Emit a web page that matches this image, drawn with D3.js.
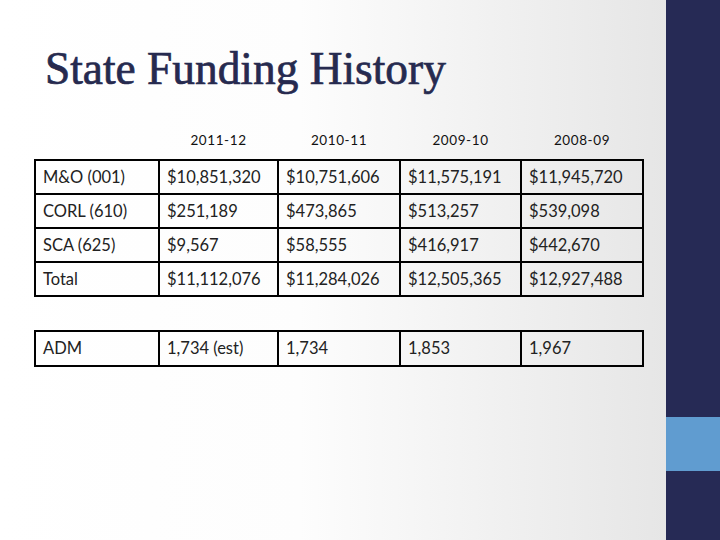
<!DOCTYPE html>
<html>
<head>
<meta charset="utf-8">
<script src="https://cdn.jsdelivr.net/npm/d3@7"></script>
<style>
  html, body { margin: 0; padding: 0; background: #fff; }
  svg { display: block; }
</style>
</head>
<body>
<div id="chart"></div>
<script>
// ---- data ----
const title = "State Funding History";
const years = ["2011-12", "2010-11", "2009-10", "2008-09"];
const rowLabels = ["M&O (001)", "CORL (610)", "SCA (625)", "Total"];
const moValues = [10851320, 10751606, 11575191, 11945720];
const corlValues = [251189, 473865, 513257, 539098];
const scaValues = [9567, 58555, 416917, 442670];
const totalValues = [11112076, 11284026, 12505365, 12927488];
const admLabel = "ADM";
const admValues = [1734, 1734, 1853, 1967];
const admNotes = [" (est)", "", "", ""];

const W = 720, H = 540;
const svg = d3.select("#chart").append("svg").attr("width", W).attr("height", H);

// background
const defs = svg.append("defs");
const g1 = defs.append("linearGradient").attr("id", "bg").attr("x1", 0).attr("x2", 1).attr("y1", 0).attr("y2", 0);
g1.append("stop").attr("offset", "0%").attr("stop-color", "#ffffff");
g1.append("stop").attr("offset", "45%").attr("stop-color", "#fdfdfd");
g1.append("stop").attr("offset", "100%").attr("stop-color", "#e6e6e6");
svg.append("rect").attr("x", 0).attr("y", 0).attr("width", 666).attr("height", H).attr("fill", "url(#bg)");

// sidebar
svg.append("rect").attr("x", 666).attr("y", 0).attr("width", 54).attr("height", H).attr("fill", "#262a55");
svg.append("rect").attr("x", 666).attr("y", 417).attr("width", 54).attr("height", 54).attr("fill", "#609cd0");

// title
const t = svg.append("text").attr("x", 45).attr("y", 84)
  .attr("font-family", "'Liberation Serif', 'DejaVu Serif', serif")
  .attr("font-size", 44).attr("fill", "#262a4f")
  .attr("stroke", "#262a4f").attr("stroke-width", 0.7)
  .text(title);
const tw = t.node().getComputedTextLength();
t.attr("font-size", 44 * 401 / tw);

// scales
const cols = ["__label"].concat(years);
const colEdges = [35, 159, 278, 400, 521, 643];
const x = d3.scaleOrdinal().domain(cols).range(colEdges.slice(0, 5));
const colWidth = c => colEdges[cols.indexOf(c) + 1] - x(c);
const rows = rowLabels;
const y = d3.scaleBand().domain(rows).range([160, 296]);
const yAdm = d3.scaleBand().domain([admLabel]).range([331, 366]);

const fmt = d3.format("$,");
const seriesByRow = [moValues, corlValues, scaValues, totalValues];

const font = "Lato, 'Open Sans', sans-serif";
const fs = 16.5;

// header
svg.append("g").selectAll("text").data(years).join("text")
  .attr("x", d => x(d) + colWidth(d) / 2)
  .attr("y", 145)
  .attr("text-anchor", "middle")
  .attr("font-family", font).attr("font-size", 13.5).attr("fill", "#111")
  .attr("letter-spacing", 0.6)
  .text(d => d);

function drawTable(g, rowKeys, yScale, cellText) {
  rowKeys.forEach((rk, ri) => {
    cols.forEach((ck, ci) => {
      g.append("text")
        .attr("x", x(ck) + 8)
        .attr("y", yScale(rk) + yScale.bandwidth() / 2)
        .attr("dy", "0.36em")
        .attr("font-family", font).attr("font-size", fs).attr("fill", "#222")
        .text(cellText(ri, ci, rk));
    });
  });
  const x0 = colEdges[0], x1 = colEdges[colEdges.length - 1];
  const y0 = yScale.range()[0], y1 = yScale.range()[1];
  const hy = rowKeys.map(r => yScale(r)).concat([y1]);
  g.selectAll(".h").data(hy).join("line")
    .attr("x1", x0 - 1).attr("x2", x1 + 1).attr("y1", d => d).attr("y2", d => d)
    .attr("stroke", "#000").attr("stroke-width", 2);
  g.selectAll(".v").data(colEdges).join("line")
    .attr("x1", d => d).attr("x2", d => d).attr("y1", y0 - 1).attr("y2", y1 + 1)
    .attr("stroke", "#000").attr("stroke-width", 2);
}

drawTable(svg.append("g"), rows, y, (ri, ci, rk) => ci === 0 ? rk : fmt(seriesByRow[ri][ci - 1]));
drawTable(svg.append("g"), [admLabel], yAdm, (ri, ci, rk) => ci === 0 ? rk : d3.format(",")(admValues[ci - 1]) + admNotes[ci - 1]);
</script>
</body>
</html>
